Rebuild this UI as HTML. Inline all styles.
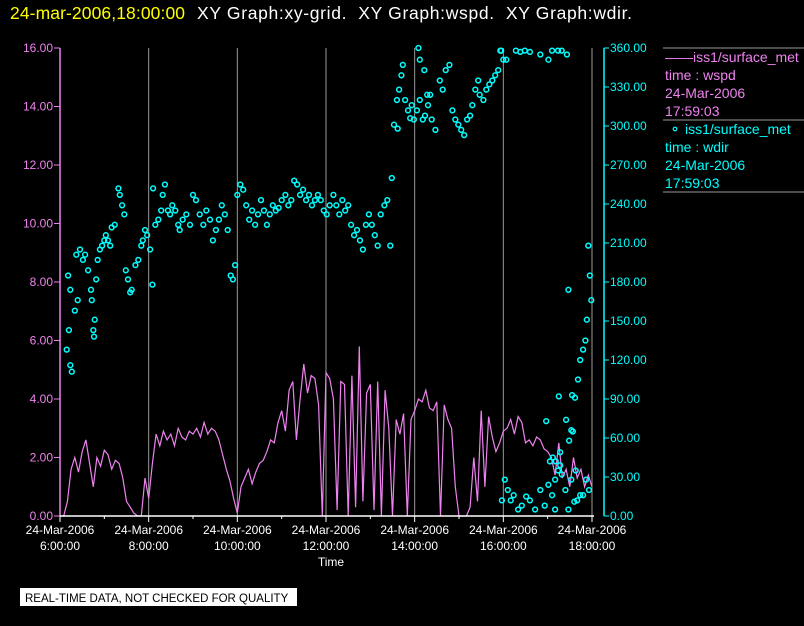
<!DOCTYPE html>
<html><head><meta charset="utf-8"><style>
html,body{margin:0;padding:0;background:#000;width:804px;height:626px;overflow:hidden}
svg{display:block}
text{font-family:"Liberation Sans",sans-serif;white-space:pre}
</style></head><body>
<svg id="chart" width="804" height="626" viewBox="0 0 804 626">
<text x="10" y="19" fill="#ffff00" font-size="17.5" textLength="175">24-mar-2006,18:00:00</text>
<text x="197" y="19" fill="#ffffff" font-size="17.5" textLength="435">XY Graph:xy-grid.  XY Graph:wspd.  XY Graph:wdir.</text>
<g id="grid"></g>
<g id="wspd"></g>
<g id="wdir"></g>
<g id="axes"></g>
<g font-size="14">
<line x1="663" y1="48" x2="804" y2="48" stroke="#999"/>
<line x1="663" y1="120" x2="804" y2="120" stroke="#999"/>
<line x1="663" y1="192" x2="804" y2="192" stroke="#999"/>
<g fill="#ee82ee">
<text x="665" y="62">——iss1/surface_met</text><text x="665" y="80">time : wspd</text><text x="665" y="98">24-Mar-2006</text><text x="665" y="116">17:59:03</text></g>
<g fill="#00ffff">
<circle cx="675" cy="129" r="1.8" fill="none" stroke="#00ffff" stroke-width="1.2"/>
<text x="685" y="134">iss1/surface_met</text><text x="665" y="152">time : wdir</text><text x="665" y="170">24-Mar-2006</text><text x="665" y="188">17:59:03</text></g>
</g>
<text x="331" y="566" fill="#fff" font-size="12" text-anchor="middle">Time</text>
<rect x="20" y="588" width="277" height="18" fill="#fff"/>
<text x="25" y="602" fill="#000" font-size="11.5">REAL-TIME DATA, NOT CHECKED FOR QUALITY</text>
</svg>
<script>
// wind speed, 5-minute samples from 6:00 to 18:00
const wspdValues=[0,0,0.5,1.6,2.0,1.5,2.2,2.6,1.8,1.0,2.0,1.7,
2.25,2.1,1.6,1.9,1.8,1.3,0.5,0.3,0.1,0,0,1.3,
0.6,1.8,2.8,2.4,2.9,2.6,2.8,2.4,3.0,2.7,2.6,2.9,
2.8,3.0,2.7,3.2,2.8,3.0,2.9,2.6,2.1,1.6,1.2,0.6,
0.1,1.0,1.3,1.6,1.1,1.5,1.8,1.9,2.2,2.6,2.5,3.2,
3.6,2.9,4.3,4.6,2.6,4.0,5.2,4.2,4.8,4.7,3.8,0,
4.9,4.7,4.0,0.2,4.6,4.5,0,4.8,0.3,5.8,0.5,4.2,
4.5,0.2,4.6,0,4.3,3.0,0,3.3,2.8,3.5,0,3.3,
3.6,4.0,3.9,4.3,3.7,3.6,3.9,0,3.8,3.3,3.0,1.0,
0,0,0,0.3,2.0,0.5,3.6,1.0,3.4,2.7,2.2,2.5,
2.9,3.0,3.3,2.8,3.4,3.2,2.5,2.6,2.4,2.7,2.6,2.3,
2.2,2.0,1.4,2.5,1.3,1.6,1.0,2.0,1.3,1.6,1.0,1.4,1.0];
const wspdStepMinutes=5;
// wind direction samples: minutes after 6:00, degrees
const wdirMinutes=[9,12,14,16,11,14,20,24,22,27,31,34,38,42,43,45,46,47,49,51,54,57,60,62,65,68,70,74,79,81,84,87,89,92,95,97,102,106,110,112,115,118,122,125,126,129,133,137,139,142,146,149,152,156,160,162,166,171,176,180,184,189,194,198,203,207,211,215,219,223,227,231,234,237,240,244,248,252,256,260,264,268,272,276,280,284,288,292,296,300,305,309,313,317,321,325,329,333,337,341,345,349,353,357,361,365,370,374,378,382,386,390,394,398,402,406,410,414,418,422,426,430,434,439,443,447,449,
452,456,459,462,464,457,467,471,474,476,479,483,487,491,494,498,501,503,508,485,487,493,497,514,518,522,527,531,535,539,543,547,551,555,558,562,566,568,573,577,581,585,589,593,597,600,604,617,623,629,636,650,661,666,674,679,686,
596,598,602,606,610,614,620,625,631,636,643,650,656,661,666,670,674,677,679,684,688,692,696,700,704,708,712,716,698,692,685,677,671,667,663,689,693,697,701,704,708,711,713,719,715,717,688,675,694,658,670];
const wdirDegrees=[128,143,116,111,185,174,158,166,201,205,197,201,189,174,166,143,138,151,182,197,205,208,212,216,212,208,222,224,252,247,239,232,189,182,172,174,193,197,208,212,220,216,205,178,252,224,228,235,247,255,235,232,239,235,224,220,228,232,224,247,243,232,224,235,228,212,220,228,239,232,220,185,182,193,247,255,251,239,228,235,224,232,243,235,224,232,239,235,237,243,247,239,243,258,255,247,251,243,247,239,243,247,243,235,232,239,247,239,232,243,235,239,224,216,220,212,205,224,232,224,216,208,232,239,243,208,260,
301,320,328,339,347,298,320,312,306,316,305,312,320,305,308,316,324,305,297,362,351,343,324,335,328,343,347,312,305,301,297,293,305,308,316,328,335,324,320,328,332,335,339,343,358,351,351,358,357,358,357,355,351,358,358,358,355,358,
12,28,20,12,16,5,8,15,12,5,20,8,24,16,28,35,39,32,20,5,28,11,12,16,16,28,20,35,66,74,49,42,45,42,58,93,91,105,120,128,135,151,166,208,185,174,92,65,73,5,3];
const speedMax=16, dirMax=360, tStart=0, tEnd=720;
const yTicksLeft=["0.00","2.00","4.00","6.00","8.00","10.00","12.00","14.00","16.00"];
const yTicksRight=["0.00","30.00","60.00","90.00","120.00","150.00","180.00","210.00","240.00","270.00","300.00","330.00","360.00"];
const xTickHours=["6:00:00","8:00:00","10:00:00","12:00:00","14:00:00","16:00:00","18:00:00"];
const xDateLabel="24-Mar-2006";

const X0=60,X1=592,Y0=516,Y1=48,RX=604;
const xs=m=>X0+(m-tStart)/(tEnd-tStart)*(X1-X0);
const ysL=v=>Y0-v/speedMax*(Y0-Y1);
const ysR=v=>Y0-Math.min(v,dirMax)/dirMax*(Y0-Y1);
const NS="http://www.w3.org/2000/svg";
function mk(tag,parent,attrs){const e=document.createElementNS(NS,tag);for(const k in attrs)e.setAttribute(k,attrs[k]);parent.appendChild(e);return e;}
const grid=document.getElementById('grid'),axes=document.getElementById('axes');
for(let h=1;h<xTickHours.length;h++){const x=xs(h*120);
 const l=mk('line',grid,{x1:x,y1:Y1,x2:x,y2:Y0,stroke:'#999','stroke-width':1});
 
 }
const pts=wspdValues.map((v,i)=>xs(i*wspdStepMinutes).toFixed(1)+','+ysL(v).toFixed(1)).join(' ');
const pl=mk('polyline',document.getElementById('wspd'),{points:pts,fill:'none',stroke:'#ee82ee','stroke-width':1.2});


const wg=document.getElementById('wdir');
wdirMinutes.forEach((m,i)=>{const c=mk('circle',wg,{cx:xs(m).toFixed(1),cy:ysR(wdirDegrees[i]).toFixed(1),r:2.4,fill:'none',stroke:'#00ffff','stroke-width':1.5});
 
 });
let a=mk('line',axes,{x1:X0,y1:Y1,x2:X0,y2:Y0,stroke:'#ee82ee','stroke-width':1.5});


a=mk('line',axes,{x1:X0,y1:Y0,x2:X1+2,y2:Y0,stroke:'#fff','stroke-width':1.5});


a=mk('line',axes,{x1:RX,y1:Y1,x2:RX,y2:Y0,stroke:'#00ffff','stroke-width':1.5});


yTicksLeft.forEach((t,i)=>{const y=ysL(i*2);
 mk('line',axes,{x1:X0-6,y1:y,x2:X0,y2:y,stroke:'#ee82ee'});
 const tx=mk('text',axes,{x:X0-7,y:y+4,fill:'#ee82ee','font-size':12,'text-anchor':'end'});tx.textContent=t;
 
 });
yTicksRight.forEach((t,i)=>{const y=ysR(i*30);
 mk('line',axes,{x1:RX,y1:y,x2:RX+5,y2:y,stroke:'#00ffff'});
 const tx=mk('text',axes,{x:RX+6,y:y+4,fill:'#00ffff','font-size':12});tx.textContent=t;
 
 });
for(let h=0;h<=12;h++){const x=xs(h*60);mk('line',axes,{x1:x,y1:Y0,x2:x,y2:Y0+(h%2?3:6),stroke:'#fff'});}
xTickHours.forEach((t,i)=>{const x=xs(i*120);
 const t1=mk('text',axes,{x:x,y:534,fill:'#fff','font-size':12,'text-anchor':'middle'});t1.textContent=xDateLabel;
 
 
 const t2=mk('text',axes,{x:x,y:550,fill:'#fff','font-size':12,'text-anchor':'middle'});t2.textContent=t;
 
 });
</script>
</body></html>
